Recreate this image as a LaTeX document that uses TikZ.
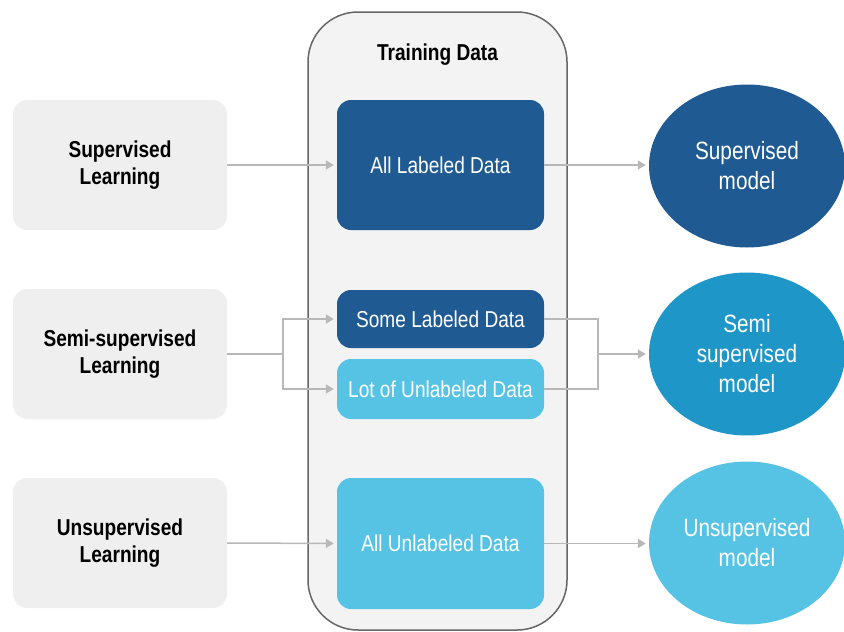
\documentclass[tikz,border=0pt]{standalone}
\usepackage{fontspec}
\setmainfont[FakeStretch=0.83]{Liberation Sans}
\usepackage{tikz}
\usetikzlibrary{shapes.geometric,arrows.meta}

\definecolor{darkblue}{HTML}{1F5B92}
\definecolor{midblue}{HTML}{1E96C8}
\definecolor{lightblue}{HTML}{56C3E5}
\definecolor{boxgray}{HTML}{EFEFEF}
\definecolor{panelgray}{HTML}{F3F3F3}
\definecolor{linegray}{HTML}{B8B8B8}

\tikzset{
  kind/.style={fill=boxgray,rounded corners=14pt,minimum width=214pt,minimum height=130pt,
    inner sep=0pt,align=center,font=\fontsize{23}{27}\selectfont\bfseries},
  databox/.style={rounded corners=14pt,minimum width=207pt,inner sep=0pt,align=center,
    text=white,font=\fontsize{23}{27}\selectfont},
  model/.style={ellipse,minimum width=196pt,minimum height=163pt,inner sep=0pt,align=center,
    text=white,font=\fontsize{25}{30}\selectfont},
  flow/.style={draw=linegray,line width=1.5pt},
  tip/.style={-{Triangle[length=8pt,width=9pt]},shorten >=3pt}
}

\begin{document}
\begin{tikzpicture}[x=1pt,y=-1pt]
\useasboundingbox (0,0) rectangle (844,632);

\draw[fill=panelgray,draw=black!60,line width=1.5pt,rounded corners=50pt] (308,12) rectangle (567,630);
\node[font=\fontsize{23}{27}\selectfont\bfseries] (title) at (437.5,55) {Training Data};

\node[kind] (sup) at (120,165) {Supervised\\Learning};
\node[kind] (semi) at (120,354) {Semi-supervised\\Learning};
\node[kind] (unsup) at (120,543) {Unsupervised\\Learning};

\node[databox,fill=darkblue,minimum height=130pt] (alllab) at (440.5,165) {All Labeled Data};
\node[databox,fill=darkblue,minimum height=58pt] (somelab) at (440.5,319) {Some Labeled Data};
\node[databox,fill=lightblue,minimum height=60pt] (lotunl) at (440.5,389) {Lot of Unlabeled Data};
\node[databox,fill=lightblue,minimum height=131pt] (allunl) at (440.5,543.5) {All Unlabeled Data};

\node[model,fill=darkblue] (supmod) at (747,166) {Supervised\\model};
\node[model,fill=midblue] (semimod) at (747,354) {Semi\\supervised\\model};
\node[model,fill=lightblue] (unsupmod) at (747,543) {Unsupervised\\model};

\coordinate (split) at (283,354);
\coordinate (join) at (598,354);

\draw[flow,tip] (sup.east) -- (alllab.west);
\draw[flow] (semi.east) -- (split);
\draw[flow,tip] (split) |- (somelab.west);
\draw[flow,tip] (split) |- (lotunl.west);
\draw[flow,tip] (unsup.east) -- (allunl.west);

\draw[flow,tip] (alllab.east) -- (alllab.east -| supmod.west);
\draw[flow] (somelab.east) -| (join);
\draw[flow] (lotunl.east) -| (join);
\draw[flow,tip] (join) -- (semimod.west);
\draw[flow,tip] (allunl.east) -- (allunl.east -| unsupmod.west);
\end{tikzpicture}
\end{document}
